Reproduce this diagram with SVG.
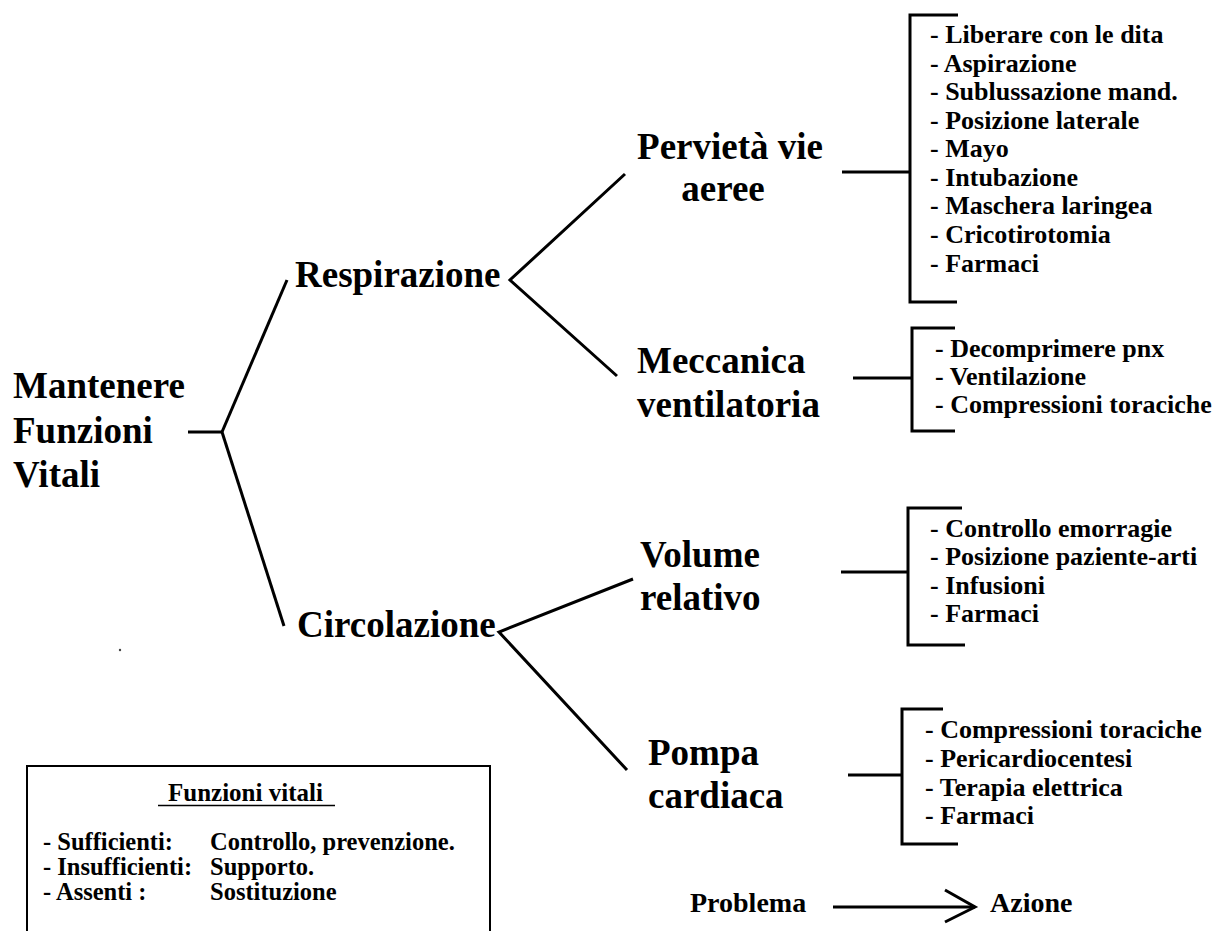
<svg xmlns="http://www.w3.org/2000/svg" width="1213" height="931" viewBox="0 0 1213 931">
<style>
text{font-family:"Liberation Serif","Times New Roman",serif;font-weight:bold;fill:#000}
.main{font-size:37px}
.item{font-size:26px}
.leg{font-size:24.5px}
.title{font-size:25px}
.pa{font-size:28px}
.ln{stroke:#000;stroke-width:3;fill:none;stroke-linecap:butt}
.thin{stroke:#000;stroke-width:2;fill:none}
</style>
<rect width="1213" height="931" fill="#fff"/>

<g id="connectors">
  <line class="ln" x1="188" y1="432" x2="222" y2="432"/>
  <line class="ln" x1="222" y1="432" x2="287" y2="280"/>
  <line class="ln" x1="222" y1="432" x2="284" y2="626"/>
  <polyline class="ln" points="625,174 510,280 617,376"/>
  <polyline class="ln" points="633,579 499,632 627,770"/>
  <line class="ln" x1="842" y1="172" x2="910" y2="172"/>
  <line class="ln" x1="853" y1="378" x2="912" y2="378"/>
  <line class="ln" x1="841" y1="572" x2="908" y2="572"/>
  <line class="ln" x1="848" y1="775" x2="902" y2="775"/>
  <line class="ln" x1="833" y1="907" x2="975" y2="907"/>
  <polyline class="ln" points="945,890 975,907 945,922"/>
</g>

<g id="root">
  <text class="main" x="13" y="398">Mantenere</text>
  <text class="main" x="13" y="443">Funzioni</text>
  <text class="main" x="13" y="487">Vitali</text>
</g>

<g id="respirazione">
  <text class="main" x="295" y="287">Respirazione</text>
</g>
<g id="circolazione">
  <text class="main" x="297" y="637">Circolazione</text>
</g>

<g id="pervieta">
  <text class="main" x="730" y="159" text-anchor="middle">Pervietà vie</text>
  <text class="main" x="723" y="201" text-anchor="middle">aeree</text>
</g>
<g id="meccanica">
  <text class="main" x="637" y="373">Meccanica</text>
  <text class="main" x="637" y="417">ventilatoria</text>
</g>
<g id="volume">
  <text class="main" x="640" y="567">Volume</text>
  <text class="main" x="640" y="610">relativo</text>
</g>
<g id="pompa">
  <text class="main" x="648" y="765">Pompa</text>
  <text class="main" x="648" y="808">cardiaca</text>
</g>

<g id="list-pervieta">
  <path class="ln" d="M958,15 H910 V302 H957"/>
  <text class="item" x="930" y="43">- Liberare con le dita</text>
  <text class="item" x="930" y="72">- Aspirazione</text>
  <text class="item" x="930" y="100">- Sublussazione mand.</text>
  <text class="item" x="930" y="129">- Posizione laterale</text>
  <text class="item" x="930" y="157">- Mayo</text>
  <text class="item" x="930" y="186">- Intubazione</text>
  <text class="item" x="930" y="214">- Maschera laringea</text>
  <text class="item" x="930" y="243">- Cricotirotomia</text>
  <text class="item" x="930" y="272">- Farmaci</text>
</g>

<g id="list-meccanica">
  <path class="ln" d="M955,328 H912 V431 H955"/>
  <text class="item" x="935" y="357">- Decomprimere pnx</text>
  <text class="item" x="935" y="385">- Ventilazione</text>
  <text class="item" x="935" y="413">- Compressioni toraciche</text>
</g>

<g id="list-volume">
  <path class="ln" d="M962,508 H908 V645 H965"/>
  <text class="item" x="930" y="537">- Controllo emorragie</text>
  <text class="item" x="930" y="565">- Posizione paziente-arti</text>
  <text class="item" x="930" y="594">- Infusioni</text>
  <text class="item" x="930" y="622">- Farmaci</text>
</g>

<g id="list-pompa">
  <path class="ln" d="M943,709 H902 V844 H958"/>
  <text class="item" x="925" y="738">- Compressioni toraciche</text>
  <text class="item" x="925" y="767">- Pericardiocentesi</text>
  <text class="item" x="925" y="796">- Terapia elettrica</text>
  <text class="item" x="925" y="824">- Farmaci</text>
</g>

<g id="legend">
  <rect class="thin" x="27" y="766" width="463" height="180"/>
  <text class="title" x="168" y="801">Funzioni vitali</text>
  <line x1="158" y1="805.5" x2="335" y2="805.5" stroke="#000" stroke-width="1.5"/>
  <text class="leg" x="43" y="850">- Sufficienti:</text>
  <text class="leg" x="210" y="850">Controllo, prevenzione.</text>
  <text class="leg" x="43" y="875">- Insufficienti:</text>
  <text class="leg" x="210" y="875">Supporto.</text>
  <text class="leg" x="43" y="900">- Assenti :</text>
  <text class="leg" x="210" y="900">Sostituzione</text>
</g>

<g id="key">
  <text class="pa" x="690" y="912">Problema</text>
  <text class="pa" x="990" y="912">Azione</text>
</g>

<circle cx="120" cy="650" r="1.2" fill="#444"/>
</svg>
